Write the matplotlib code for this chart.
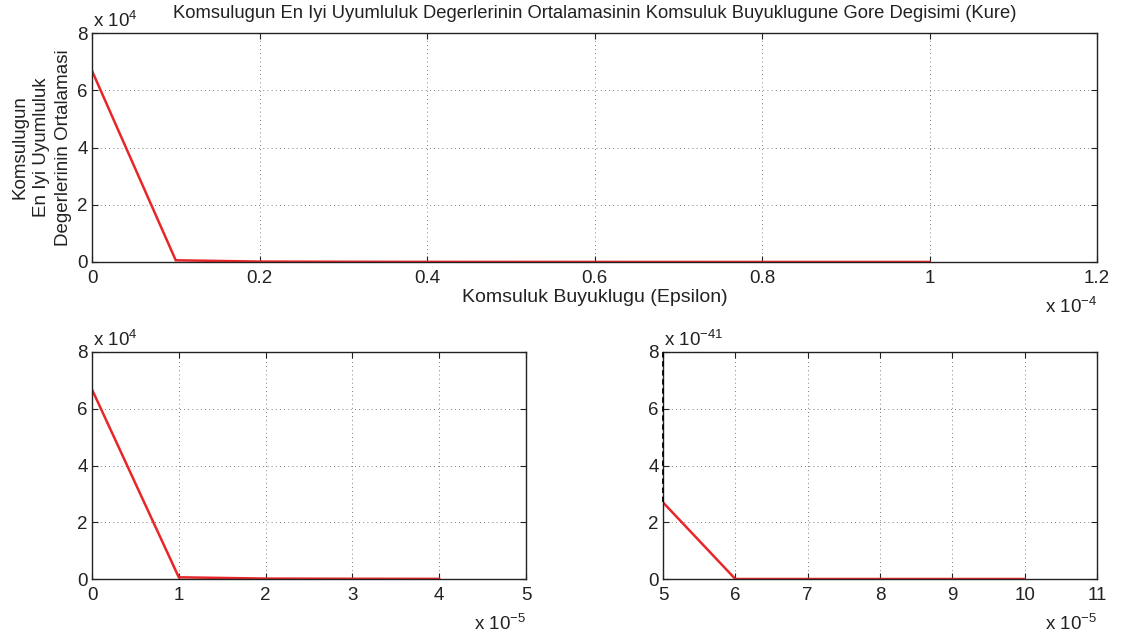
import numpy as np
import matplotlib
matplotlib.use("Agg")
import matplotlib.pyplot as plt
from matplotlib.ticker import FuncFormatter

plt.rcParams['font.family'] = ['Liberation Sans', 'DejaVu Sans']
plt.rcParams['mathtext.fontset'] = 'custom'
plt.rcParams['mathtext.rm'] = 'Liberation Sans'

# veriler
eps_all = [0, 1e-5, 2e-5, 3e-5, 4e-5, 5e-5, 6e-5, 7e-5, 8e-5, 9e-5, 1e-4]
fit_all = [66800, 600, 150, 80, 50, 40, 30, 20, 15, 10, 8]

eps_low = [0, 1e-5, 2e-5, 3e-5, 4e-5]
fit_low = [66800, 600, 150, 80, 50]

eps_high = [5e-5, 6e-5, 7e-5, 8e-5, 9e-5, 1e-4]
fit_high = [2.7e-41, 0, 0, 0, 0, 0]

title = "Komsulugun En Iyi Uyumluluk Degerlerinin Ortalamasinin Komsuluk Buyuklugune Gore Degisimi (Kure)"
ylabel = "Komsulugun\nEn Iyi Uyumluluk\nDegerlerinin Ortalamasi"
xlabel = "Komsuluk Buyuklugu (Epsilon)"

red = '#e8262a'
ink = '#222222'
W, H = 1122, 641
fig = plt.figure(figsize=(W / 100, H / 100), dpi=100)


def box(px_l, px_t, px_r, px_b):
    return [px_l / W, 1 - px_b / H, (px_r - px_l) / W, (px_b - px_t) / H]


def style(ax, xs, ys, xexp, yexp, xt, yt):
    ax.set_xlim(xt[0], xt[-1])
    ax.set_ylim(yt[0], yt[-1])
    ax.set_xticks(xt)
    ax.set_yticks(yt)
    ax.xaxis.set_major_formatter(FuncFormatter(lambda v, p: f"{v / 10**xexp:g}"))
    ax.yaxis.set_major_formatter(FuncFormatter(lambda v, p: f"{v / 10**yexp:g}"))
    ax.tick_params(direction='in', top=True, right=True, labelsize=13.5,
                   length=4, width=0.8, colors=ink)
    ax.tick_params(axis='x', pad=6)
    ax.tick_params(axis='y', pad=3)
    ax.grid(True, linestyle=(0, (1, 4)), color='#555555', linewidth=0.6)
    for s in ax.spines.values():
        s.set_linewidth(1.0)
        s.set_color(ink)
    ax.plot(xs, ys, color=red, linewidth=1.8, solid_joinstyle='miter')
    ax.annotate(r"x 10$^{%d}$" % yexp, xy=(0.0, 1.0), xycoords='axes fraction',
                xytext=(1, 4), textcoords='offset points',
                fontsize=13.5, ha='left', va='baseline', color=ink)
    ax.annotate(r"x 10$^{%d}$" % xexp, xy=(1.0, 0.0), xycoords='axes fraction',
                xytext=(0, -37), textcoords='offset points',
                fontsize=13.5, ha='right', va='baseline', color=ink)


ax1 = fig.add_axes(box(92, 33, 1097, 262))
style(ax1, eps_all, fit_all, -4, 4,
      np.arange(0, 1.21e-4, 0.2e-4), np.arange(0, 8.1e4, 2e4))
ax1.set_title(title, fontsize=13.2, pad=11, color=ink)
ax1.set_xlabel(xlabel, fontsize=14, labelpad=1, color=ink)
ax1.set_ylabel(ylabel, fontsize=13.5, labelpad=4, color=ink, linespacing=1.35)

ax2 = fig.add_axes(box(92, 352, 526, 579))
style(ax2, eps_low, fit_low, -5, 4,
      np.arange(0, 5.1e-5, 1e-5), np.arange(0, 8.1e4, 2e4))

ax3 = fig.add_axes(box(663, 352, 1097, 579))
style(ax3, eps_high, fit_high, -5, -41,
      np.arange(5e-5, 11.1e-5, 1e-5), np.arange(0, 8.1e-41, 2e-41))
ax3.plot([eps_high[0], eps_high[0]], [fit_high[0], 8e-41], color='black',
         linestyle=(0, (3, 2)), linewidth=1.3, zorder=5, clip_on=False)

fig.savefig("out.png", dpi=100)
